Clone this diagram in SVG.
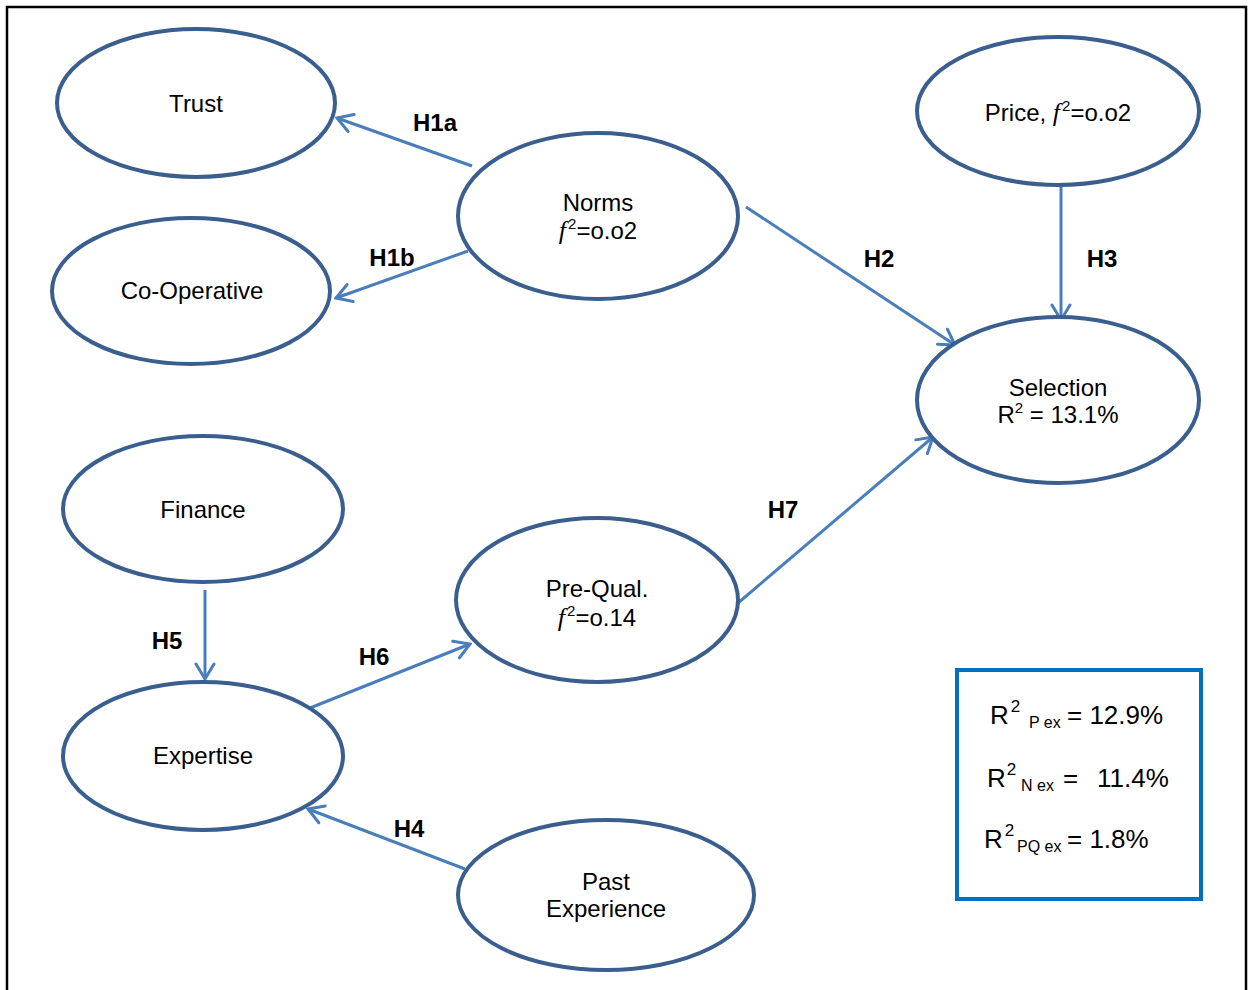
<svg xmlns="http://www.w3.org/2000/svg" width="1253" height="990" viewBox="0 0 1253 990">
  <defs>
    <style>
      .node { fill: #ffffff; stroke: #3A5F8E; stroke-width: 4; }
      .lbl { font-family: "Liberation Sans", Arial, sans-serif; font-size: 24px; fill: #000; text-anchor: middle; }
      .hyp { font-family: "Liberation Sans", Arial, sans-serif; font-size: 24px; font-weight: bold; fill: #000; text-anchor: middle; }
      .f { font-family: "Liberation Serif", "Times New Roman", serif; font-style: italic; font-size: 26px; }
      .sup { font-size: 15px; }
      .edge { stroke: #4A7EBB; stroke-width: 3; fill: none; marker-end: url(#open); }
      .stat { font-family: "Liberation Sans", Arial, sans-serif; font-size: 26px; fill: #000; }
      .ssup { font-size: 17px; }
      .sub { font-size: 16px; }
    </style>
    <marker id="open" markerUnits="userSpaceOnUse" viewBox="-18 -11 20 22" refX="0" refY="0" markerWidth="20" markerHeight="22" orient="auto">
      <path d="M-15,-9 L0,0 L-15,9" fill="none" stroke="#4A7EBB" stroke-width="3" stroke-linecap="round" stroke-linejoin="miter"/>
    </marker>
  </defs>

  <rect width="1253" height="990" fill="#ffffff"/>
  <!-- outer frame (open at the bottom edge) -->
  <rect x="7" y="7" width="1239" height="1010" fill="none" stroke="#000" stroke-width="2.5"/>

  <!-- connectors -->
  <g id="connectors">
    <line class="edge" x1="472" y1="166" x2="337" y2="118"/>
    <line class="edge" x1="468" y1="251" x2="336" y2="298"/>
    <line class="edge" x1="746" y1="207" x2="955" y2="345"/>
    <line class="edge" x1="1061" y1="185" x2="1061" y2="320"/>
    <line class="edge" x1="738" y1="603" x2="933" y2="437"/>
    <line class="edge" x1="205" y1="590" x2="205" y2="679"/>
    <line class="edge" x1="310" y1="708" x2="470" y2="644"/>
    <line class="edge" x1="465" y1="869" x2="308" y2="809"/>
    <text class="hyp" x="435" y="131">H1a</text>
    <text class="hyp" x="392" y="266">H1b</text>
    <text class="hyp" x="879" y="267">H2</text>
    <text class="hyp" x="1102" y="267">H3</text>
    <text class="hyp" x="783" y="518">H7</text>
    <text class="hyp" x="167" y="649">H5</text>
    <text class="hyp" x="374" y="665">H6</text>
    <text class="hyp" x="409" y="837">H4</text>
  </g>

  <g id="trust">
    <ellipse class="node" cx="196" cy="103" rx="139" ry="74"/>
    <text class="lbl" x="196" y="112">Trust</text>
  </g>

  <g id="cooperative">
    <ellipse class="node" cx="191" cy="291" rx="139" ry="73"/>
    <text class="lbl" x="192" y="299">Co-Operative</text>
  </g>

  <g id="norms">
    <ellipse class="node" cx="598" cy="216" rx="140" ry="83"/>
    <text class="lbl" x="598" y="211">Norms</text>
    <text class="lbl" x="598" y="239"><tspan class="f">f</tspan><tspan class="sup" dx="2" dy="-10">2</tspan><tspan dy="10">=o.o2</tspan></text>
  </g>

  <g id="price">
    <ellipse class="node" cx="1058" cy="111" rx="141" ry="74"/>
    <text class="lbl" x="1058" y="121">Price, <tspan class="f">f</tspan><tspan class="sup" dx="2" dy="-10">2</tspan><tspan dy="10">=o.o2</tspan></text>
  </g>

  <g id="selection">
    <ellipse class="node" cx="1058" cy="400" rx="141" ry="83"/>
    <text class="lbl" x="1058" y="396">Selection</text>
    <text class="lbl" x="1058" y="423">R<tspan class="sup" dy="-10">2</tspan><tspan dy="10"> = 13.1%</tspan></text>
  </g>

  <g id="finance">
    <ellipse class="node" cx="203" cy="509" rx="140" ry="73"/>
    <text class="lbl" x="203" y="518">Finance</text>
  </g>

  <g id="prequal">
    <ellipse class="node" cx="597" cy="600" rx="141" ry="82"/>
    <text class="lbl" x="597" y="597">Pre-Qual.</text>
    <text class="lbl" x="597" y="626"><tspan class="f">f</tspan><tspan class="sup" dx="2" dy="-10">2</tspan><tspan dy="10">=o.14</tspan></text>
  </g>

  <g id="expertise">
    <ellipse class="node" cx="203" cy="756" rx="140" ry="74"/>
    <text class="lbl" x="203" y="764">Expertise</text>
  </g>

  <g id="past-experience">
    <ellipse class="node" cx="606" cy="895" rx="148" ry="75"/>
    <text class="lbl" x="606" y="890">Past</text>
    <text class="lbl" x="606" y="917">Experience</text>
  </g>

  <!-- explained-variance summary box -->
  <g id="r2-box">
    <rect x="957" y="670" width="244" height="229" fill="#ffffff" stroke="#0070C0" stroke-width="4"/>
    <text class="stat" x="990" y="724">R<tspan class="ssup" dx="2" dy="-12">2</tspan><tspan class="sub" x="1029" dy="16">P ex</tspan><tspan x="1067" dy="-4">= 12.9%</tspan></text>
    <text class="stat" x="987" y="787">R<tspan class="ssup" dx="1" dy="-12">2</tspan><tspan class="sub" x="1021" dy="16">N ex</tspan><tspan x="1063" dy="-4">=</tspan><tspan x="1097">11.4%</tspan></text>
    <text class="stat" x="984" y="848">R<tspan class="ssup" dx="2" dy="-12">2</tspan><tspan class="sub" x="1017" dy="16">PQ ex</tspan><tspan x="1067" dy="-4">= 1.8%</tspan></text>
  </g>
</svg>
